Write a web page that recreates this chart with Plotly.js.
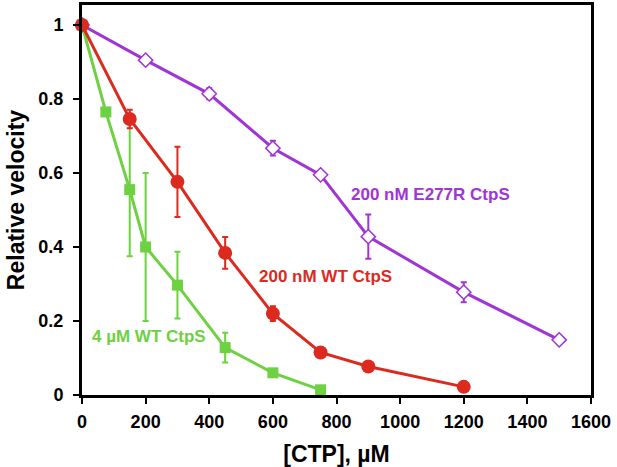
<!DOCTYPE html>
<html>
<head>
<meta charset="utf-8">
<script src="https://cdn.plot.ly/plotly-3.0.1.min.js"></script>
<style>html,body{margin:0;padding:0;background:#fff;}#chart{width:617px;height:467px;}</style>
</head>
<body>
<div id="chart"></div>
<script>
// 4 µM WT CtpS
const greenX = [0, 75, 150, 200, 300, 450, 600, 750];
const greenY = [1, 0.765, 0.555, 0.40, 0.297, 0.128, 0.06, 0.014];
const greenErr = [0, 0.01, 0.18, 0.20, 0.09, 0.04, 0.005, 0.005];
// 200 nM WT CtpS
const redX = [0, 150, 300, 450, 600, 750, 900, 1200];
const redY = [1, 0.746, 0.576, 0.384, 0.22, 0.115, 0.077, 0.022];
const redErr = [0, 0.025, 0.095, 0.043, 0.02, 0.005, 0.005, 0.005];
// 200 nM E277R CtpS
const purpleX = [0, 200, 400, 600, 750, 900, 1200, 1500];
const purpleY = [1, 0.905, 0.814, 0.667, 0.595, 0.428, 0.278, 0.149];
const purpleErr = [0, 0.005, 0.015, 0.02, 0.01, 0.06, 0.027, 0.005];

const labels = ["4 µM WT CtpS", "200 nM WT CtpS", "200 nM E277R CtpS"];
const xTicks = [0, 200, 400, 600, 800, 1000, 1200, 1400, 1600];
const yTicks = [0, 0.2, 0.4, 0.6, 0.8, 1];
const yTickText = ["0", "0.2", "0.4", "0.6", "0.8", "1"];

const GREEN = "#6dd142", RED = "#dd2a1f", PURPLE = "#a034d4";
const FONT = "Liberation Sans, Arial, sans-serif";

function trace(x, y, e, color, symbol, size, fill, name) {
  return {
    x: x, y: y, name: name, type: "scatter", mode: "lines+markers",
    line: {color: color, width: 3},
    marker: {symbol: symbol, size: size, color: fill, line: {color: color, width: fill === "white" ? 1.5 : 0}},
    error_y: {type: "data", array: e, visible: true, color: color, thickness: 2, width: 3},
    showlegend: false, cliponaxis: false
  };
}

const data = [
  trace(purpleX, purpleY, purpleErr, PURPLE, "diamond", 11, "white", labels[2]),
  trace(greenX, greenY, greenErr, GREEN, "square", 11, GREEN, labels[0]),
  trace(redX, redY, redErr, RED, "circle", 14, RED, labels[1])
];

const axisCommon = {
  showline: true, linecolor: "black", linewidth: 3, mirror: true,
  ticks: "outside", ticklen: 6, tickwidth: 2, tickcolor: "black",
  showgrid: false, zeroline: false,
  tickfont: {family: FONT, size: 18, color: "black", weight: "bold"}
};

const layout = {
  width: 617, height: 467,
  margin: {l: 82, r: 26, t: 5, b: 72},
  paper_bgcolor: "white", plot_bgcolor: "white",
  xaxis: Object.assign({}, axisCommon, {
    range: [0, 1600], tickvals: xTicks, ticklabelstandoff: 2,
    title: {text: "[CTP], µM", font: {family: FONT, size: 23, color: "black", weight: "bold"}, standoff: 16}
  }),
  yaxis: Object.assign({}, axisCommon, {
    range: [0, 1.054], tickvals: yTicks, ticktext: yTickText, ticklabelstandoff: 6,
    title: {text: "Relative velocity", font: {family: FONT, size: 23, color: "black", weight: "bold"}, standoff: 8}
  }),
  annotations: [
    {x: 210, y: 0.157, xref: "x", yref: "y", text: labels[0], showarrow: false,
     font: {family: FONT, size: 17, color: GREEN, weight: "bold"}},
    {x: 765, y: 0.32, xref: "x", yref: "y", text: labels[1], showarrow: false,
     font: {family: FONT, size: 17, color: RED, weight: "bold"}},
    {x: 1095, y: 0.543, xref: "x", yref: "y", text: labels[2], showarrow: false,
     font: {family: FONT, size: 17, color: PURPLE, weight: "bold"}}
  ]
};

Plotly.newPlot("chart", data, layout, {displayModeBar: false, staticPlot: true});
</script>
</body>
</html>
